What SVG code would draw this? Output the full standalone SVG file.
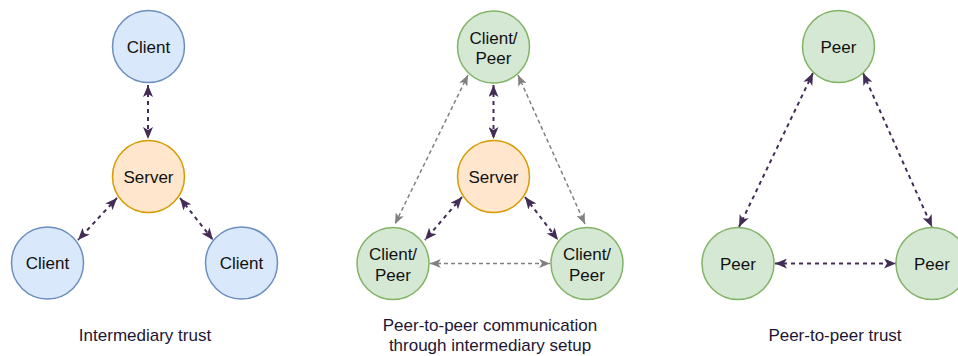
<svg xmlns="http://www.w3.org/2000/svg" width="958" height="356" viewBox="0 0 958 356">
  <defs>
    <style>
      .node text, .cap { font-family: "Liberation Sans", Arial, sans-serif; font-size: 17px; text-anchor: middle; }
      .node text { fill: #111111; }
      .cap { fill: #1e1633; }
      .blue { fill: #dae8fc; stroke: #6c8ebf; stroke-width: 1.5; }
      .orange { fill: #ffe6cc; stroke: #d79b00; stroke-width: 1.5; }
      .green { fill: #d5e8d4; stroke: #82b366; stroke-width: 1.5; }
      .dark { stroke: #432d57; stroke-width: 2; stroke-dasharray: 4 4; fill: none; marker-start: url(#headDark); marker-end: url(#headDark); }
      .gray { stroke: #808080; stroke-width: 1.5; stroke-dasharray: 4 3; fill: none; marker-start: url(#headGray); marker-end: url(#headGray); }
    </style>
    <marker id="headDark" viewBox="0 0 12 10" refX="12" refY="5" markerWidth="12" markerHeight="10" markerUnits="userSpaceOnUse" orient="auto-start-reverse">
      <path d="M0,0 L12,5 L0,10 L3,5 Z" fill="#432d57"/>
    </marker>
    <marker id="headGray" viewBox="0 0 12 10" refX="12" refY="5" markerWidth="11" markerHeight="9" markerUnits="userSpaceOnUse" orient="auto-start-reverse">
      <path d="M0,0 L12,5 L0,10 L3,5 Z" fill="#808080"/>
    </marker>
  </defs>

  <!-- connectors -->
  <g id="connectors">
    <!-- intermediary trust -->
    <line class="dark" x1="148" y1="85" x2="148" y2="139"/>
    <line class="dark" x1="117" y1="198" x2="78" y2="240"/>
    <line class="dark" x1="180" y1="198" x2="213" y2="240"/>
    <!-- peer-to-peer through intermediary -->
    <line class="dark" x1="493.5" y1="85" x2="493.5" y2="139"/>
    <line class="dark" x1="462" y1="197" x2="425" y2="240"/>
    <line class="dark" x1="525" y1="197" x2="558" y2="240"/>
    <line class="gray" x1="468" y1="75" x2="395" y2="224"/>
    <line class="gray" x1="518" y1="75" x2="585" y2="224"/>
    <line class="gray" x1="430" y1="263.5" x2="550" y2="263.5"/>
    <!-- peer-to-peer trust -->
    <line class="dark" x1="813" y1="73" x2="739" y2="227"/>
    <line class="dark" x1="863" y1="73" x2="932" y2="227"/>
    <line class="dark" x1="775" y1="263.5" x2="896" y2="263.5"/>
  </g>

  <!-- intermediary trust -->
  <g id="it-client-top" class="node">
    <circle class="blue" cx="148.5" cy="46.5" r="36"/>
    <text x="148.5" y="52.5">Client</text>
  </g>
  <g id="it-server" class="node">
    <circle class="orange" cx="148.5" cy="176.5" r="36"/>
    <text x="148.5" y="182.5">Server</text>
  </g>
  <g id="it-client-left" class="node">
    <circle class="blue" cx="47.5" cy="263" r="36"/>
    <text x="47.5" y="269">Client</text>
  </g>
  <g id="it-client-right" class="node">
    <circle class="blue" cx="241.5" cy="263" r="36"/>
    <text x="241.5" y="269">Client</text>
  </g>

  <!-- peer-to-peer through intermediary -->
  <g id="pi-peer-top" class="node">
    <circle class="green" cx="493.5" cy="47" r="36"/>
    <text x="493.5" y="43.5">Client/</text>
    <text x="493.5" y="64">Peer</text>
  </g>
  <g id="pi-server" class="node">
    <circle class="orange" cx="493.5" cy="176.5" r="36"/>
    <text x="493.5" y="182.5">Server</text>
  </g>
  <g id="pi-peer-left" class="node">
    <circle class="green" cx="393" cy="263.5" r="36"/>
    <text x="393" y="260">Client/</text>
    <text x="393" y="280.5">Peer</text>
  </g>
  <g id="pi-peer-right" class="node">
    <circle class="green" cx="587" cy="263.5" r="36"/>
    <text x="587" y="260">Client/</text>
    <text x="587" y="280.5">Peer</text>
  </g>

  <!-- peer-to-peer trust -->
  <g id="pp-peer-top" class="node">
    <circle class="green" cx="838.5" cy="46.5" r="36"/>
    <text x="838.5" y="52.5">Peer</text>
  </g>
  <g id="pp-peer-left" class="node">
    <circle class="green" cx="738" cy="263.5" r="36"/>
    <text x="738" y="269.5">Peer</text>
  </g>
  <g id="pp-peer-right" class="node">
    <circle class="green" cx="932" cy="263.5" r="36"/>
    <text x="932" y="269.5">Peer</text>
  </g>

  <!-- captions -->
  <g id="captions">
    <text class="cap" x="145" y="341">Intermediary trust</text>
    <text class="cap" x="490" y="331">Peer-to-peer communication</text>
    <text class="cap" x="490" y="350.5">through intermediary setup</text>
    <text class="cap" x="835" y="341">Peer-to-peer trust</text>
  </g>
</svg>
